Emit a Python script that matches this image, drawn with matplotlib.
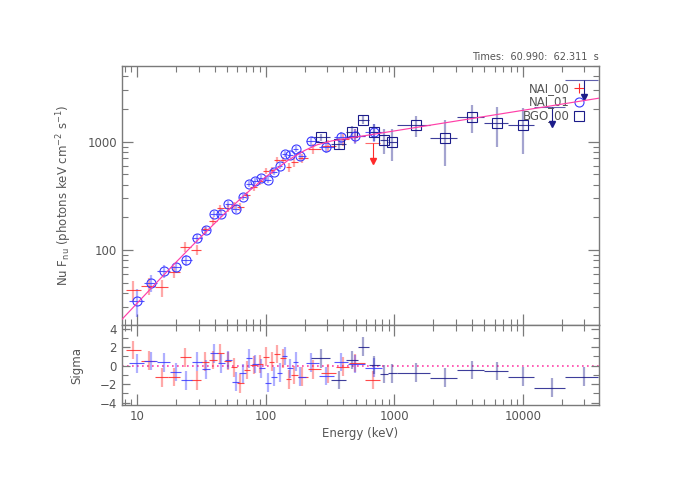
import numpy as np
import matplotlib
matplotlib.use("Agg")
import matplotlib.pyplot as plt
from matplotlib.ticker import LogLocator, NullFormatter, FixedLocator, FixedFormatter, MultipleLocator

# ---- NAI_00 (red) ----
nai0_e = [9.3, 12.3, 15.5, 19.2, 23.6, 29.1, 33.7, 38.7, 44.2, 50.5, 56.0, 63.3, 71.2, 81.0, 90.5,
          100.0, 111.0, 122.0, 135.0, 150.0, 165.0, 190.0, 234.0, 306.0, 401.0, 491.0]
nai0_lo = [8.2, 10.6, 13.8, 17.3, 21.3, 26.3, 31.3, 36.1, 41.4, 47.3, 53.2, 59.5, 67.1, 75.9, 85.6,
           95.1, 105.4, 116.4, 128.5, 142.3, 157.3, 177.0, 211.0, 268.0, 350.0, 444.0]
nai0_hi = [10.6, 13.8, 17.3, 21.3, 26.3, 31.3, 36.1, 41.4, 47.3, 53.2, 59.5, 67.1, 75.9, 85.6, 95.1,
           105.4, 116.4, 128.5, 142.3, 157.3, 177.0, 211.0, 268.0, 350.0, 444.0, 591.0]
nai0_flux = [42.8, 46.8, 45.2, 63, 107, 101, 155, 185, 243, 245, 258, 251, 320, 380, 432,
             540, 545, 680, 680, 585, 650, 700, 860, 920, 1050, 1140]
nai0_err = [9, 8, 8, 8, 12, 11, 13, 15, 18, 19, 20, 21, 24, 27, 30,
            34, 37, 44, 50, 55, 60, 70, 95, 110, 140, 170]
nai0_sigma = [1.7, 0.54, -1.26, -1.2, 0.9, -1.6, 0.43, 0.6, 1.34, 0.5, -0.18, -1.9, -0.46, 0.07, 0.2,
              0.97, 0.43, 1.26, 0.8, -1.47, -1.0, -1.19, -0.4, -0.83, -0.1, 0.3]
nai0_ul_e = [686.0]
nai0_ul_lo = [591.0]
nai0_ul_hi = [773.0]
nai0_ul = [967.0]
nai0_ul_sigma = [-1.55]

# ---- NAI_01 (blue) ----
nai1_e = [9.95, 12.8, 16.0, 19.9, 24.0, 29.1, 34.4, 39.7, 44.9, 50.9, 58.1, 66.2, 73.8, 83.0, 92.4,
          103.7, 114.6, 127.6, 140.5, 154.5, 170.0, 185.8, 225.0, 294.0, 383.0, 497.0, 694.0]
nai1_lo = [8.6, 11.3, 14.3, 17.9, 21.9, 26.4, 31.6, 37.0, 42.2, 47.8, 54.4, 62.0, 69.9, 78.3, 87.6,
           97.9, 109.0, 121.0, 134.0, 147.0, 162.0, 178.0, 205.0, 257.0, 336.0, 436.0, 587.0]
nai1_hi = [11.3, 14.3, 17.9, 21.9, 26.4, 31.6, 37.0, 42.2, 47.8, 54.4, 62.0, 69.9, 78.3, 87.6, 97.9,
           109.0, 121.0, 134.0, 147.0, 162.0, 178.0, 205.0, 257.0, 336.0, 436.0, 587.0, 800.0]
nai1_flux = [34, 50, 64, 69, 80, 130, 152, 216, 217, 268, 237, 310, 407, 436, 462,
             443, 528, 593, 775, 753, 861, 738, 1008, 899, 1098, 1130, 1220]
nai1_err = [10, 9, 9, 8, 9, 11, 12, 14, 15, 17, 19, 21, 24, 26, 28,
            30, 33, 37, 45, 50, 60, 75, 90, 110, 140, 170, 230]
nai1_sigma = [0.26, 0.5, 0.37, -0.7, -1.6, 0.43, -0.39, 1.34, 0.26, 0.6, -1.73, -0.82, 0.8, 0.18, -0.28,
              -1.83, -1.19, -0.76, 1.05, -0.28, 0.43, -1.19, 0.32, -1.1, 0.4, 0.2, -0.2]

# ---- BGO_00 (navy) ----
bgo_e = [267, 369, 469, 573, 694, 830, 957, 1472, 2488, 3993, 6240, 9935]
bgo_lo = [225, 320, 420, 520, 630, 770, 890, 1040, 1900, 3040, 4930, 7700]
bgo_hi = [316, 420, 520, 630, 770, 890, 1040, 1900, 3040, 4930, 7700, 12200]
bgo_flux = [1098, 953, 1230, 1585, 1237, 1038, 993, 1416, 1089, 1702, 1500, 1416]
bgo_err = [90, 120, 180, 130, 220, 260, 330, 300, 490, 490, 600, 650]
bgo_sigma = [0.8, -1.55, 0.6, 2.05, 0.08, -0.9, -0.82, -0.75, -1.3, -0.46, -0.57, -1.19]
bgo_ul_e = [16680.0, 29700.0]
bgo_ul_lo = [12200.0, 21300.0]
bgo_ul_hi = [21300.0, 38400.0]
bgo_ul = [2103.0, 3715.0]
bgo_ul_sigma = [-2.38, -1.19]

# ---- model curve (nu F_nu) ----
model_e = [7.6, 10, 15, 20, 30, 50, 70, 100, 150, 200, 250, 321, 500, 1000, 3000, 10000, 40000]
model_flux = [22.9, 32.4, 54.0, 77.1, 126, 229, 331, 475, 678, 830, 936, 1014, 1103, 1258, 1550, 1949, 2536]

RED = '#ff2a2a'
BLUE = '#3a3aff'
NAVY = '#1c1c8a'
PINK = '#ff3fa8'
FRAME = '#7a7a7a'
TEXT = '#555555'
ARROW_FRAC = 0.69

plt.rcParams['font.family'] = ['DejaVu Sans']
plt.rcParams['font.size'] = 8.5

fig = plt.figure(figsize=(6.95, 5.0), dpi=100)
ax = fig.add_axes([0.1755, 0.35, 0.6863, 0.518])
axr = fig.add_axes([0.1755, 0.19, 0.6863, 0.16], sharex=ax)


def plot_points(a, e, lo, hi, y, yerr, color, marker=None):
    e = np.asarray(e, float)
    y = np.asarray(y, float)
    yerr = np.asarray(yerr, float)
    a.vlines(e, y - yerr, y + yerr, color=color, lw=1.6, alpha=0.4, zorder=2)
    a.hlines(y, lo, hi, color=color, lw=0.8, alpha=0.85, zorder=3)
    if marker:
        a.plot(e, y, ls='none', marker=marker, mfc='none', mec=color, ms=6.5, mew=0.8, zorder=4)


def plot_limits(a, e, lo, hi, ul, color):
    ul = np.asarray(ul, float)
    tip = ul * ARROW_FRAC
    a.hlines(ul, lo, hi, color=color, lw=0.8, alpha=0.7, zorder=3)
    a.vlines(e, tip, ul, color=color, lw=0.8, zorder=3)
    a.plot(e, tip, ls='none', marker='v', color=color, ms=4.5, zorder=4)


# top panel
plot_points(ax, nai0_e, nai0_lo, nai0_hi, nai0_flux, nai0_err, RED)
plot_limits(ax, nai0_ul_e, nai0_ul_lo, nai0_ul_hi, nai0_ul, RED)
plot_points(ax, nai1_e, nai1_lo, nai1_hi, nai1_flux, nai1_err, BLUE, 'o')
plot_points(ax, bgo_e, bgo_lo, bgo_hi, bgo_flux, bgo_err, NAVY, 's')
plot_limits(ax, bgo_ul_e, bgo_ul_lo, bgo_ul_hi, bgo_ul, NAVY)
ax.plot(model_e, model_flux, color=PINK, lw=0.85, zorder=5)

ax.set_xscale('log')
ax.set_yscale('log')
ax.set_xlim(7.6, 38900)
ax.set_ylim(20.3, 5000)
ax.set_ylabel(r'Nu F$_{\rm nu}$ (photons keV cm$^{-2}$ s$^{-1}$)', color=TEXT, labelpad=10)
ax.yaxis.set_major_locator(FixedLocator([100, 1000]))
ax.yaxis.set_major_formatter(FixedFormatter(['100', '1000']))
ax.yaxis.set_minor_locator(LogLocator(base=10, subs=np.arange(2, 10)))
ax.yaxis.set_minor_formatter(NullFormatter())
plt.setp(ax.get_xticklabels(), visible=False)

# legend, drawn by hand like the original
leg = [('NAI_00', RED, '+'), ('NAI_01', BLUE, 'o'), ('BGO_00', NAVY, 's')]
for i, (name, col, mk) in enumerate(leg):
    yy = 0.914 - i * 0.053
    ax.text(0.939, yy, name, transform=ax.transAxes, ha='right', va='center', color=TEXT, fontsize=8.5)
    ax.plot([0.958], [yy], transform=ax.transAxes, marker=mk, ms=6.5, mfc='none', mec=col, mew=0.8,
            ls='none', clip_on=False)

fig.text(0.861, 0.876, 'Times:  60.990:  62.311  s', ha='right', va='bottom', color=TEXT, fontsize=7)

# residual panel
plot_points(axr, nai0_e, nai0_lo, nai0_hi, nai0_sigma, np.ones(len(nai0_e)), RED)
plot_points(axr, nai0_ul_e, nai0_ul_lo, nai0_ul_hi, nai0_ul_sigma, [1.0], RED)
plot_points(axr, nai1_e, nai1_lo, nai1_hi, nai1_sigma, np.ones(len(nai1_e)), BLUE)
plot_points(axr, bgo_e, bgo_lo, bgo_hi, bgo_sigma, np.ones(len(bgo_e)), NAVY)
plot_points(axr, bgo_ul_e, bgo_ul_lo, bgo_ul_hi, bgo_ul_sigma, [1.0, 1.0], NAVY)
axr.axhline(0, color=PINK, ls=(0, (1, 2)), lw=1.2, zorder=1)
axr.set_ylim(-4.25, 4.4)
axr.yaxis.set_major_locator(MultipleLocator(2))
axr.yaxis.set_minor_locator(MultipleLocator(1))
axr.set_ylabel('Sigma', color=TEXT, labelpad=12)
axr.set_xlabel('Energy (keV)', color=TEXT, labelpad=3)
axr.xaxis.set_minor_locator(LogLocator(base=10, subs=np.arange(2, 10)))
axr.xaxis.set_minor_formatter(NullFormatter())
axr.set_xticks([10, 100, 1000, 10000])
axr.set_xticklabels(['10', '100', '1000', '10000'])

for a in (ax, axr):
    for sp in a.spines.values():
        sp.set_color(FRAME)
        sp.set_linewidth(1.0)
    a.tick_params(which='both', direction='in', top=True, right=True, colors=FRAME,
                  labelcolor=TEXT, labelsize=8.5)
    a.tick_params(which='major', length=8, width=0.9)
    a.tick_params(which='minor', length=4, width=0.8)
axr.tick_params(which='major', axis='y', length=6)
axr.tick_params(which='minor', axis='y', length=4)

fig.savefig('out.png', dpi=100)
